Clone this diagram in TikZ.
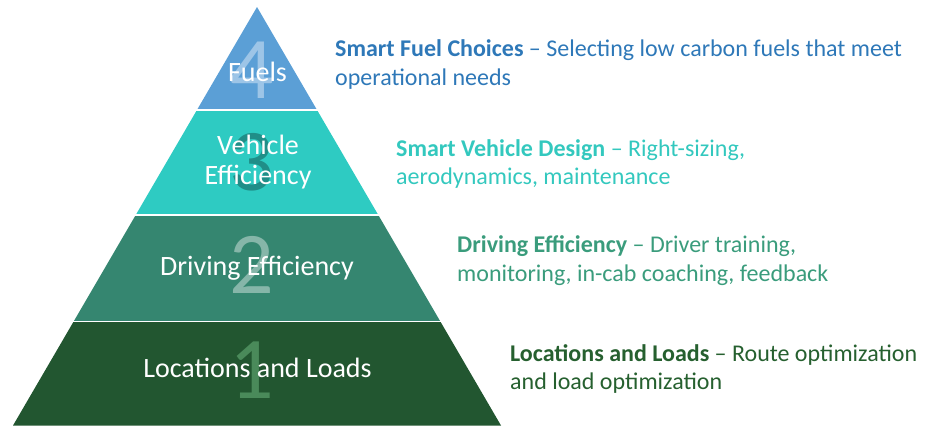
\documentclass[tikz,border=0pt]{standalone}
\usepackage{fontspec}
\setmainfont{Carlito}
\begin{document}
\begin{tikzpicture}[x=1pt,y=-1pt,
  tiertext/.style={text=white,font=\fontsize{28}{29.5}\selectfont,align=center,inner sep=0pt},
  tiernum/.style={font=\fontsize{88}{88}\selectfont,inner sep=0pt},
  desc/.style={font=\fontsize{24}{28.5}\selectfont,align=left,inner sep=0pt,anchor=west}]
  \definecolor{fuelc}{HTML}{5B9FD6}
  \definecolor{vehc}{HTML}{2ECBC2}
  \definecolor{drvc}{HTML}{358670}
  \definecolor{locc}{HTML}{225630}
  \definecolor{fueltxt}{HTML}{2E78B8}
  \definecolor{vehtxt}{HTML}{33C8BE}
  \definecolor{drvtxt}{HTML}{3A9C7C}
  \definecolor{loctxt}{HTML}{26602F}
  \definecolor{num1}{HTML}{4A8A5A}
  \useasboundingbox (0,0) rectangle (936,426);
  \coordinate (apex) at (257,7);
  \coordinate (bl) at (13,425.5);
  \coordinate (br) at (501,425.5);
  % pyramid bands, separated by thin white gaps
  \foreach \top/\bot/\col in {0/108.5/fuelc,111/213.5/vehc,216.5/320/drvc,322.5/426/locc}{
    \begin{scope}
      \clip (0,\top) rectangle (936,\bot);
      \fill[\col] (apex) -- (bl) -- (br) -- cycle;
    \end{scope}
  }
  % large tier numbers
  \node[tiernum,text=fuelc!60!white] (n4) at (252,70) {4};
  \node[tiernum,text=vehc!70!black] (n3) at (252,162) {3};
  \node[tiernum,text=drvc!60!white] (n2) at (252,265) {2};
  \node[tiernum,text=num1] (n1) at (252,370) {1};
  % tier labels
  \node[tiertext] (t4) at (257.5,72) {Fuels};
  \node[tiertext] (t3) at (258,162) {Vehicle\\Efficiency};
  \node[tiertext] (t2) at (257,268) {Driving Efficiency};
  \node[tiertext] (t1) at (257.5,368) {Locations and Loads};
  % descriptions
  \node[desc,text=fueltxt] (d4) at (335,64.5) {\textbf{Smart Fuel Choices} -- Selecting low carbon fuels that meet\\operational needs};
  \node[desc,text=vehtxt] (d3) at (396,164) {\textbf{Smart Vehicle Design} -- Right-sizing,\\aerodynamics, maintenance};
  \node[desc,text=drvtxt] (d2) at (457,260.5) {\textbf{Driving Efficiency} -- Driver training,\\monitoring, in-cab coaching, feedback};
  \node[desc,text=loctxt] (d1) at (510,369) {\textbf{Locations and Loads} -- Route optimization\\and load optimization};
\end{tikzpicture}
\end{document}
